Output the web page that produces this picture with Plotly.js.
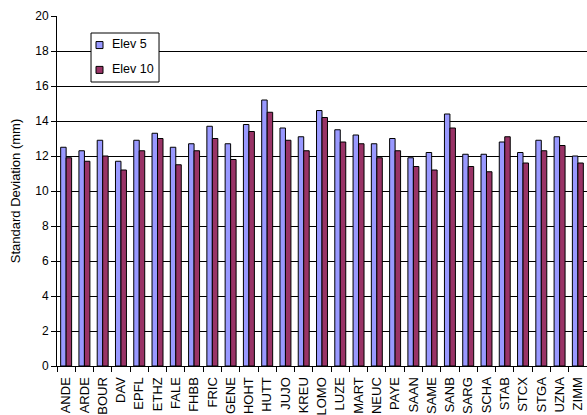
<!DOCTYPE html>
<html>
<head>
<meta charset="utf-8">
<script src="https://cdn.plot.ly/plotly-3.0.1.min.js"></script>
<style>
  html, body { margin: 0; padding: 0; background: #fff; }
  #chart_div { width: 587px; height: 415px; }
</style>
</head>
<body>
<div id="chart_div"></div>
<script>
// station names along the x axis
var stations = ['ANDE','ARDE','BOUR','DAV','EPFL','ETHZ','FALE','FHBB','FRIC','GENE',
  'HOHT','HUTT','JUJO','KREU','LOMO','LUZE','MART','NEUC','PAYE','SAAN',
  'SAME','SANB','SARG','SCHA','STAB','STCX','STGA','UZNA','ZIMM'];

// standard deviation (mm)
var elev5 = [12.5, 12.3, 12.9, 11.7, 12.9, 13.3, 12.5, 12.7, 13.7, 12.7,
  13.8, 15.2, 13.6, 13.1, 14.6, 13.5, 13.2, 12.7, 13.0, 11.9,
  12.2, 14.4, 12.1, 12.1, 12.8, 12.2, 12.9, 13.1, 12.0];
var elev10 = [11.9, 11.7, 12.0, 11.2, 12.3, 13.0, 11.5, 12.3, 13.0, 11.8,
  13.4, 14.5, 12.9, 12.3, 14.2, 12.8, 12.7, 11.9, 12.3, 11.4,
  11.2, 13.6, 11.4, 11.1, 13.1, 11.6, 12.3, 12.6, 11.6];

var series_names = ['Elev 5', 'Elev 10'];
var yticks = [0, 2, 4, 6, 8, 10, 12, 14, 16, 18, 20];

var col5 = '#9999ff', col10 = '#993366';

var data = [
  {
    x: stations, y: elev5, type: 'bar', name: series_names[0],
    marker: {color: col5, line: {color: '#000', width: 1}}
  },
  {
    x: stations, y: elev10, type: 'bar', name: series_names[1],
    marker: {color: col10, line: {color: '#000', width: 1}}
  }
];

// hand made legend box (excel style, small squares close to the text)
var legend_shapes = [
  {type: 'rect', xref: 'paper', yref: 'paper', x0: 0.0642, x1: 0.1925, y0: 0.8114, y1: 0.9514,
   fillcolor: '#fff', line: {color: '#000', width: 1}, layer: 'above'},
  {type: 'rect', xref: 'paper', yref: 'paper', x0: 0.0736, x1: 0.0868, y0: 0.907, y1: 0.927,
   fillcolor: col5, line: {color: '#000', width: 1}, layer: 'above'},
  {type: 'rect', xref: 'paper', yref: 'paper', x0: 0.0736, x1: 0.0868, y0: 0.836, y1: 0.856,
   fillcolor: col10, line: {color: '#000', width: 1}, layer: 'above'}
];
var legend_text = [
  {xref: 'paper', yref: 'paper', x: 0.1, y: 0.919, xanchor: 'left', yanchor: 'middle',
   text: series_names[0], showarrow: false, font: {size: 12.5}},
  {xref: 'paper', yref: 'paper', x: 0.1, y: 0.848, xanchor: 'left', yanchor: 'middle',
   text: series_names[1], showarrow: false, font: {size: 12.5}}
];

var layout = {
  width: 587, height: 415,
  margin: {l: 57, r: 0, t: 16, b: 49},
  paper_bgcolor: '#fff', plot_bgcolor: '#fff',
  font: {family: 'Liberation Sans, Arial, sans-serif', size: 12, color: '#000'},
  barmode: 'group', bargap: 0.4, bargroupgap: 0,
  showlegend: false,
  shapes: legend_shapes,
  annotations: legend_text,
  xaxis: {
    type: 'category', tickangle: -90,
    showline: true, linecolor: '#000', linewidth: 1,
    ticks: 'outside', ticklen: 5, tickcolor: '#000', tickson: 'boundaries',
    ticklabelstandoff: 5,
    showgrid: false, tickfont: {size: 13}
  },
  yaxis: {
    range: [0, 20], tickvals: yticks, ticktext: yticks.map(String),
    showline: true, linecolor: '#000', linewidth: 1,
    ticks: 'outside', ticklen: 5, tickcolor: '#000',
    showgrid: true, gridcolor: '#000', gridwidth: 1,
    zeroline: false, tickfont: {size: 12},
    title: {text: 'Standard Deviation (mm)', font: {size: 13}, standoff: 11}
  }
};

Plotly.newPlot('chart_div', data, layout, {staticPlot: true});
</script>
</body>
</html>
